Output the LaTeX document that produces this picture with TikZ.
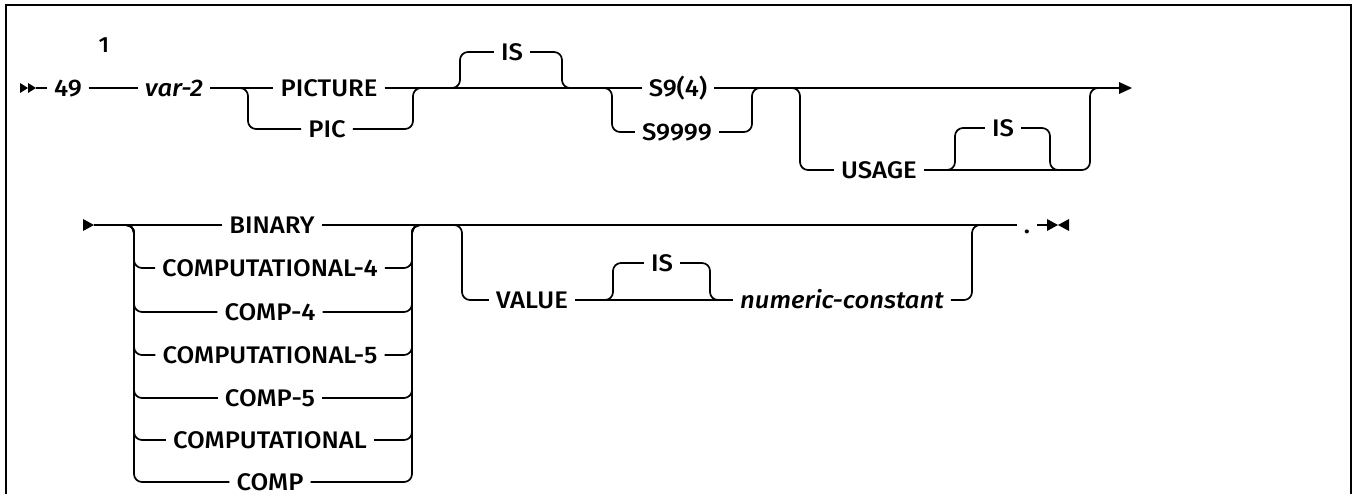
\documentclass[tikz,border=0pt]{standalone}
\usepackage{fontspec}
\setmainfont{Fira Sans}[UprightFont=* Medium,ItalicFont=* Medium Italic,FakeStretch=1.07]
\begin{document}
\begin{tikzpicture}[x=1pt,y=-1pt,
  txt/.style={inner xsep=7pt,inner ysep=0pt,text height=17pt,text depth=0pt,font=\fontsize{24}{28}\selectfont},
  var/.style={txt,font=\fontsize{24}{28}\selectfont\itshape},
  rr/.style={line width=1.7pt,rounded corners=8pt},
  tipfill/.style={fill=black}]
\useasboundingbox (0,0) rectangle (1356,494);
\draw[line width=2.6pt] (6,496) -- (6,5) -- (1351,5) -- (1351,496);

% ---------- row 1 ----------
\node[txt] (n49) at (68,88) {49};
\node[txt,font=\fontsize{22}{24}\selectfont] (sup) at (104,44) {1};
\node[var] (var2) at (174,88) {var-2};
\node[txt] (picture) at (329,88) {PICTURE};
\node[txt] (pic) at (327,129) {PIC};
\node[txt] (is1) at (512,52) {IS};
\node[txt] (s94) at (678,88) {S9(4)};
\node[txt] (s9999) at (677,132) {S9999};
\node[txt] (usage) at (879,170) {USAGE};
\node[txt] (is2) at (1003,128) {IS};
\coordinate (start1) at (36,88);
\coordinate (end1) at (1121,88);

\fill[tipfill] (20,83) -- (28,88) -- (20,93) -- cycle;
\fill[tipfill] (28,83) -- (36,88) -- (28,93) -- cycle;
\draw[rr] (start1) -- (n49);
\draw[rr] (n49) -- (var2);
\draw[rr] (var2) -- (picture);
\draw[rr] (picture) -- (s94);
\draw[rr] (s94) -- (end1);
\fill[tipfill] (1119,82) -- (1132,88) -- (1119,94) -- cycle;

\draw[rr] (238,88) -- (248,88) -- (248,129) -- (pic.west);
\draw[rr] (pic.east) -- (413,129) -- (413,88) -- (423,88);

\draw[rr] (450,88) -- (460,88) -- (460,52) -- (is1.west);
\draw[rr] (is1.east) -- (562,52) -- (562,88) -- (572,88);

\draw[rr] (602,88) -- (612,88) -- (612,132) -- (s9999.west);
\draw[rr] (s9999.east) -- (752,132) -- (752,88) -- (762,88);

\draw[rr] (790,88) -- (800,88) -- (800,170) -- (usage.west);
\draw[rr] (usage.east) -- (1090,170) -- (1090,88) -- (1100,88);

\draw[rr] (945,170) -- (955,170) -- (955,128) -- (is2.west);
\draw[rr] (is2.east) -- (1050,128) -- (1050,170) -- (1060,170);

% ---------- row 2 ----------
\coordinate (start2) at (94,225);
\fill[tipfill] (83,219) -- (94,225) -- (83,231) -- cycle;
\node[txt] (binary) at (272,225) {BINARY};
\node[txt] (dot) at (1027,225) {.};
\coordinate (end2) at (1048,225);
\draw[rr] (start2) -- (binary);
\draw[rr] (binary) -- (dot);
\draw[rr] (dot) -- (end2);
\fill[tipfill] (1047,219) -- (1058,225) -- (1047,231) -- cycle;
\fill[tipfill] (1069,219) -- (1058,225) -- (1069,231) -- cycle;

\foreach \n/\t/\y in {c4/COMPUTATIONAL-4/268, comp4/COMP-4/312, c5/COMPUTATIONAL-5/355,
  comp5/COMP-5/398, comput/COMPUTATIONAL/440, comp/COMP/482} {
  \node[txt] (\n) at (270,\y) {\t};
  \draw[rr] (124,225) -- (134,225) -- (134,\y) -- (\n.west);
  \draw[rr] (\n.east) -- (412,\y) -- (412,225) -- (422,225);
}

\node[txt] (value) at (532,300) {VALUE};
\node[txt] (is3) at (662,263) {IS};
\node[var] (numc) at (842,300) {numeric-constant};
\draw[rr] (452,225) -- (462,225) -- (462,300) -- (value.west);
\draw[rr] (value) -- (numc);
\draw[rr] (603,300) -- (613,300) -- (613,263) -- (is3.west);
\draw[rr] (is3.east) -- (710,263) -- (710,300) -- (720,300);
\draw[rr] (numc.east) -- (972,300) -- (972,225) -- (982,225);
\end{tikzpicture}
\end{document}
